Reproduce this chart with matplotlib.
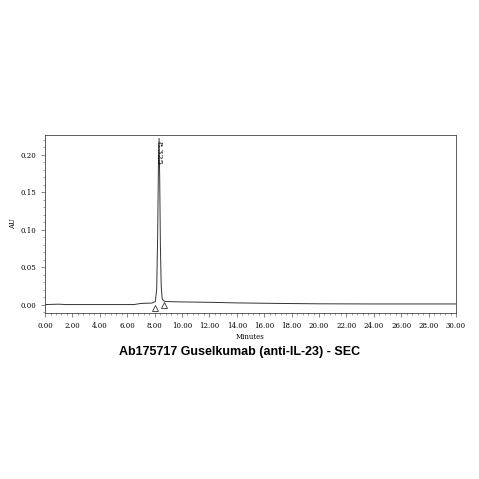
import matplotlib
matplotlib.use("Agg")
import matplotlib.pyplot as plt
from matplotlib.ticker import MultipleLocator

times = [0.0, 1.0, 1.5, 4.0, 6.5, 7.0, 7.8, 8.05, 8.15, 8.22, 8.28, 8.325, 8.37, 8.42, 8.48, 8.55, 8.65, 8.8, 10.0, 12.0, 14.0, 17.0, 20.0, 24.0, 30.0]
au = [0.000, 0.0005, 0.000, 0.000, 0.000, 0.0015, 0.002, 0.004, 0.02, 0.09, 0.19, 0.222, 0.17, 0.08, 0.025, 0.008, 0.005, 0.004, 0.0035, 0.003, 0.0022, 0.0015, 0.001, 0.0008, 0.0008]
peak_label = "8.325"
peak_t, peak_h = 8.325, 0.222
marks_t = [8.0, 8.7]
marks_y = [-0.004, 0.000]

fig = plt.figure(figsize=(4.79, 4.79), dpi=100)
ax = fig.add_axes([0.094, 0.347, 0.858, 0.372])
ax.plot(times, au, color="#333333", lw=0.7)
ax.plot(marks_t, marks_y, linestyle="none", marker="^", mfc="white", mec="#333333", ms=5, mew=0.6)
ax.text(peak_t - 0.05, peak_h - 0.003, peak_label, rotation=-90, ha="center", va="top", fontsize=6, family="DejaVu Serif")
ax.set_xlim(0, 30)
ax.set_ylim(-0.011, 0.227)
ax.xaxis.set_major_locator(MultipleLocator(2))
ax.xaxis.set_minor_locator(MultipleLocator(0.4))
ax.yaxis.set_major_locator(MultipleLocator(0.05))
ax.yaxis.set_minor_locator(MultipleLocator(0.01))
ax.set_xticklabels([]) 
ax.set_xticks(range(0, 31, 2))
ax.set_xticklabels([f"{v:.2f}" for v in range(0, 31, 2)], fontsize=5, family="DejaVu Serif")
ax.set_yticks([0, 0.05, 0.10, 0.15, 0.20])
ax.set_yticklabels(["0.00", "0.05", "0.10", "0.15", "0.20"], fontsize=5, family="DejaVu Serif")
ax.tick_params(which="major", length=3, width=0.5, color="#555555")
ax.tick_params(which="minor", length=1.5, width=0.4, color="#555555")
ax.set_xlabel("Minutes", fontsize=5, family="DejaVu Serif", labelpad=2)
ax.set_ylabel("AU", fontsize=5, family="DejaVu Serif", labelpad=2)
for s in ax.spines.values():
    s.set_linewidth(0.6)
    s.set_color("#444444")
fig.text(0.5, 0.265, "Ab175717 Guselkumab (anti-IL-23) - SEC", ha="center", va="center", fontsize=9, fontweight="bold", family="Liberation Sans")
fig.savefig("out.png", dpi=100)
